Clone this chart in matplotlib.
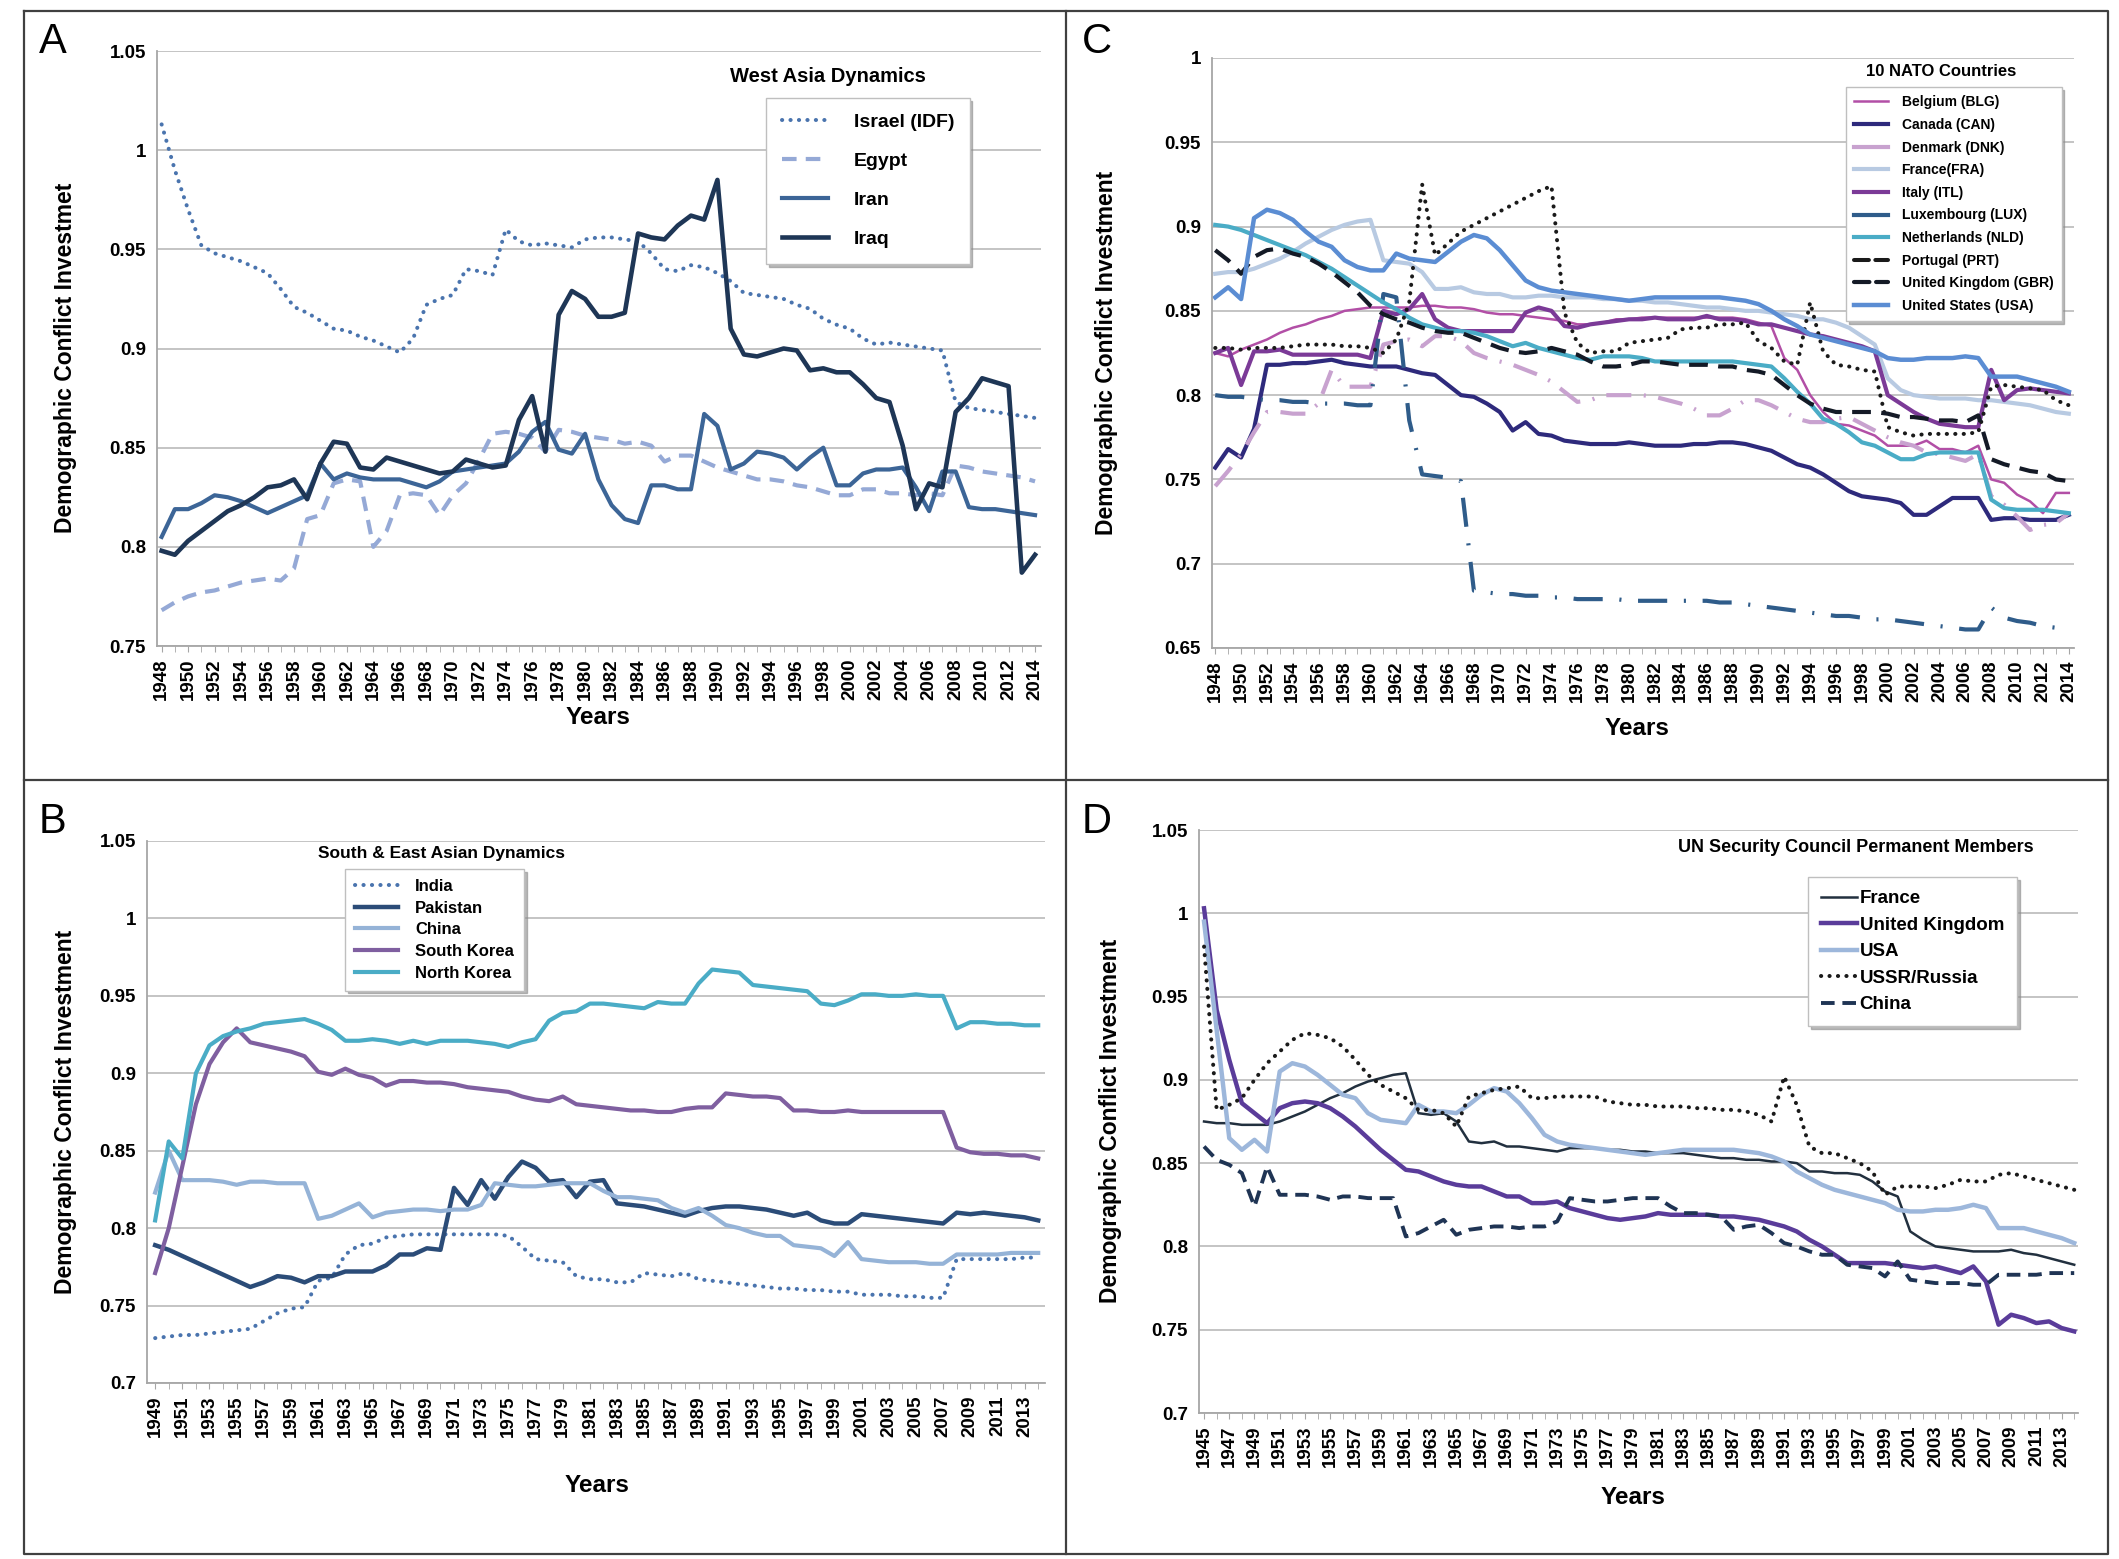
import numpy as np
import matplotlib
matplotlib.use("Agg")
import matplotlib.pyplot as plt
from matplotlib.lines import Line2D

# ---------------- DATA ----------------
# Panel A: West Asia Dynamics (1948-2014)
years_a = list(range(1948, 2015))
israel_a = [1.013, 0.990, 0.970, 0.952, 0.948, 0.946, 0.944, 0.941, 0.938, 0.930, 0.921, 0.918, 0.914, 0.910,
            0.909, 0.906, 0.904, 0.901, 0.898, 0.905, 0.922, 0.925, 0.927, 0.940, 0.939, 0.937, 0.960, 0.954,
            0.952, 0.953, 0.952, 0.951, 0.955, 0.956, 0.956, 0.955, 0.954, 0.948, 0.940, 0.939, 0.942, 0.941,
            0.938, 0.934, 0.928, 0.927, 0.926, 0.925, 0.922, 0.920, 0.915, 0.912, 0.910, 0.905, 0.902, 0.903,
            0.902, 0.901, 0.900, 0.899, 0.873, 0.870, 0.869, 0.868, 0.867, 0.866, 0.865]
egypt_a = [0.768, 0.772, 0.775, 0.777, 0.778, 0.780, 0.782, 0.783, 0.784, 0.783, 0.789, 0.814, 0.816, 0.832,
           0.834, 0.833, 0.800, 0.808, 0.826, 0.827, 0.826, 0.816, 0.826, 0.832, 0.844, 0.857, 0.858, 0.857,
           0.855, 0.848, 0.859, 0.858, 0.856, 0.855, 0.854, 0.852, 0.853, 0.851, 0.843, 0.846, 0.846, 0.843,
           0.840, 0.838, 0.836, 0.834, 0.834, 0.833, 0.831, 0.830, 0.828, 0.826, 0.826, 0.829, 0.829, 0.827,
           0.827, 0.826, 0.827, 0.826, 0.841, 0.840, 0.838, 0.837, 0.836, 0.835, 0.833]
iran_a = [0.805, 0.819, 0.819, 0.822, 0.826, 0.825, 0.823, 0.820, 0.817, 0.820, 0.823, 0.826, 0.842, 0.834,
          0.837, 0.835, 0.834, 0.834, 0.834, 0.832, 0.830, 0.833, 0.838, 0.839, 0.840, 0.841, 0.842, 0.848,
          0.858, 0.863, 0.849, 0.847, 0.857, 0.834, 0.821, 0.814, 0.812, 0.831, 0.831, 0.829, 0.829, 0.867,
          0.861, 0.839, 0.842, 0.848, 0.847, 0.845, 0.839, 0.845, 0.850, 0.831, 0.831, 0.837, 0.839, 0.839,
          0.840, 0.830, 0.818, 0.838, 0.838, 0.820, 0.819, 0.819, 0.818, 0.817, 0.816]
iraq_a = [0.798, 0.796, 0.803, 0.808, 0.813, 0.818, 0.821, 0.825, 0.830, 0.831, 0.834, 0.824, 0.842, 0.853,
          0.852, 0.840, 0.839, 0.845, 0.843, 0.841, 0.839, 0.837, 0.838, 0.844, 0.842, 0.840, 0.841, 0.864,
          0.876, 0.848, 0.917, 0.929, 0.925, 0.916, 0.916, 0.918, 0.958, 0.956, 0.955, 0.962, 0.967, 0.965,
          0.985, 0.910, 0.897, 0.896, 0.898, 0.900, 0.899, 0.889, 0.890, 0.888, 0.888, 0.882, 0.875, 0.873,
          0.851, 0.819, 0.832, 0.830, 0.868, 0.875, 0.885, 0.883, 0.881, 0.787, 0.796]

# Panel B: South & East Asian Dynamics (1949-2014)
years_b = list(range(1949, 2015))
india_b = [0.729, 0.730, 0.731, 0.731, 0.732, 0.733, 0.734, 0.735, 0.740, 0.745, 0.748, 0.749, 0.766, 0.768,
           0.783, 0.789, 0.790, 0.794, 0.795, 0.796, 0.796, 0.796, 0.796, 0.796, 0.796, 0.796, 0.795, 0.788,
           0.780, 0.779, 0.778, 0.769, 0.767, 0.767, 0.765, 0.765, 0.771, 0.770, 0.769, 0.771, 0.767, 0.766,
           0.765, 0.764, 0.763, 0.762, 0.761, 0.761, 0.760, 0.760, 0.759, 0.759, 0.757, 0.757, 0.757, 0.756,
           0.756, 0.755, 0.755, 0.780, 0.780, 0.780, 0.780, 0.780, 0.781, 0.781]
pakistan_b = [0.789, 0.786, 0.782, 0.778, 0.774, 0.770, 0.766, 0.762, 0.765, 0.769, 0.768, 0.765, 0.769, 0.769,
              0.772, 0.772, 0.772, 0.776, 0.783, 0.783, 0.787, 0.786, 0.826, 0.815, 0.831, 0.819, 0.833, 0.843,
              0.839, 0.830, 0.831, 0.820, 0.830, 0.831, 0.816, 0.815, 0.814, 0.812, 0.810, 0.808, 0.811, 0.813,
              0.814, 0.814, 0.813, 0.812, 0.810, 0.808, 0.810, 0.805, 0.803, 0.803, 0.809, 0.808, 0.807, 0.806,
              0.805, 0.804, 0.803, 0.810, 0.809, 0.810, 0.809, 0.808, 0.807, 0.805]
china_b = [0.823, 0.850, 0.831, 0.831, 0.831, 0.830, 0.828, 0.830, 0.830, 0.829, 0.829, 0.829, 0.806, 0.808,
           0.812, 0.816, 0.807, 0.810, 0.811, 0.812, 0.812, 0.811, 0.812, 0.812, 0.815, 0.829, 0.828, 0.827,
           0.827, 0.828, 0.829, 0.829, 0.829, 0.824, 0.820, 0.820, 0.819, 0.818, 0.813, 0.810, 0.813, 0.808,
           0.802, 0.800, 0.797, 0.795, 0.795, 0.789, 0.788, 0.787, 0.782, 0.791, 0.780, 0.779, 0.778, 0.778,
           0.778, 0.777, 0.777, 0.783, 0.783, 0.783, 0.783, 0.784, 0.784, 0.784]
skorea_b = [0.771, 0.800, 0.840, 0.880, 0.906, 0.920, 0.929, 0.920, 0.918, 0.916, 0.914, 0.911, 0.901, 0.899,
            0.903, 0.899, 0.897, 0.892, 0.895, 0.895, 0.894, 0.894, 0.893, 0.891, 0.890, 0.889, 0.888, 0.885,
            0.883, 0.882, 0.885, 0.880, 0.879, 0.878, 0.877, 0.876, 0.876, 0.875, 0.875, 0.877, 0.878, 0.878,
            0.887, 0.886, 0.885, 0.885, 0.884, 0.876, 0.876, 0.875, 0.875, 0.876, 0.875, 0.875, 0.875, 0.875,
            0.875, 0.875, 0.875, 0.852, 0.849, 0.848, 0.848, 0.847, 0.847, 0.845]
nkorea_b = [0.805, 0.856, 0.845, 0.900, 0.918, 0.924, 0.927, 0.929, 0.932, 0.933, 0.934, 0.935, 0.932, 0.928,
            0.921, 0.921, 0.922, 0.921, 0.919, 0.921, 0.919, 0.921, 0.921, 0.921, 0.920, 0.919, 0.917, 0.920,
            0.922, 0.934, 0.939, 0.940, 0.945, 0.945, 0.944, 0.943, 0.942, 0.946, 0.945, 0.945, 0.958, 0.967,
            0.966, 0.965, 0.957, 0.956, 0.955, 0.954, 0.953, 0.945, 0.944, 0.947, 0.951, 0.951, 0.950, 0.950,
            0.951, 0.950, 0.950, 0.929, 0.933, 0.933, 0.932, 0.932, 0.931, 0.931]

# Panel C: 10 NATO Countries (1948-2014)
years_c = list(range(1948, 2015))
belgium_c = [0.825, 0.823, 0.827, 0.830, 0.833, 0.837, 0.840, 0.842, 0.845, 0.847, 0.850, 0.851, 0.852, 0.852,
             0.852, 0.852, 0.853, 0.853, 0.852, 0.852, 0.851, 0.849, 0.848, 0.848, 0.847, 0.846, 0.845, 0.844,
             0.842, 0.842, 0.843, 0.845, 0.845, 0.846, 0.846, 0.846, 0.846, 0.846, 0.846, 0.846, 0.846, 0.845,
             0.843, 0.841, 0.822, 0.815, 0.800, 0.790, 0.783, 0.782, 0.779, 0.776, 0.770, 0.770, 0.770, 0.773,
             0.768, 0.768, 0.766, 0.770, 0.750, 0.748, 0.741, 0.737, 0.730, 0.742, 0.742]
canada_c = [0.757, 0.768, 0.763, 0.780, 0.818, 0.818, 0.819, 0.819, 0.820, 0.821, 0.819, 0.818, 0.817, 0.817,
            0.817, 0.815, 0.813, 0.812, 0.806, 0.800, 0.799, 0.795, 0.790, 0.779, 0.784, 0.777, 0.776, 0.773,
            0.772, 0.771, 0.771, 0.771, 0.772, 0.771, 0.770, 0.770, 0.770, 0.771, 0.771, 0.772, 0.772, 0.771,
            0.769, 0.767, 0.763, 0.759, 0.757, 0.753, 0.748, 0.743, 0.740, 0.739, 0.738, 0.736, 0.729, 0.729,
            0.734, 0.739, 0.739, 0.739, 0.726, 0.727, 0.727, 0.726, 0.726, 0.726, 0.729]
denmark_c = [0.746, 0.755, 0.765, 0.778, 0.790, 0.790, 0.789, 0.789, 0.795, 0.815, 0.805, 0.805, 0.805, 0.830,
             0.832, 0.833, 0.829, 0.835, 0.835, 0.832, 0.825, 0.822, 0.820, 0.818, 0.815, 0.812, 0.808, 0.802,
             0.796, 0.797, 0.800, 0.800, 0.800, 0.800, 0.799, 0.797, 0.795, 0.792, 0.788, 0.788, 0.792, 0.797,
             0.797, 0.794, 0.790, 0.786, 0.784, 0.784, 0.786, 0.787, 0.783, 0.779, 0.775, 0.772, 0.770, 0.766,
             0.765, 0.763, 0.761, 0.765, 0.740, 0.735, 0.728, 0.720, 0.723, 0.724, 0.730]
france_c = [0.872, 0.873, 0.873, 0.875, 0.878, 0.881, 0.885, 0.890, 0.894, 0.898, 0.901, 0.903, 0.904, 0.880,
            0.879, 0.878, 0.873, 0.863, 0.863, 0.864, 0.861, 0.860, 0.860, 0.858, 0.858, 0.859, 0.859, 0.858,
            0.858, 0.858, 0.857, 0.857, 0.856, 0.856, 0.855, 0.855, 0.854, 0.853, 0.852, 0.852, 0.851, 0.850,
            0.850, 0.849, 0.848, 0.847, 0.845, 0.845, 0.843, 0.840, 0.835, 0.830, 0.810, 0.803, 0.800, 0.799,
            0.798, 0.798, 0.798, 0.797, 0.797, 0.796, 0.795, 0.794, 0.792, 0.790, 0.789]
italy_c = [0.825, 0.828, 0.806, 0.826, 0.826, 0.827, 0.824, 0.824, 0.824, 0.824, 0.824, 0.824, 0.822, 0.850,
           0.848, 0.851, 0.860, 0.845, 0.840, 0.838, 0.838, 0.838, 0.838, 0.838, 0.849, 0.852, 0.850, 0.841,
           0.840, 0.842, 0.843, 0.844, 0.845, 0.845, 0.846, 0.845, 0.845, 0.845, 0.847, 0.845, 0.845, 0.844,
           0.842, 0.842, 0.840, 0.838, 0.836, 0.835, 0.833, 0.831, 0.829, 0.826, 0.800, 0.795, 0.790, 0.786,
           0.783, 0.782, 0.781, 0.781, 0.815, 0.797, 0.803, 0.804, 0.803, 0.802, 0.801]
luxembourg_c = [0.800, 0.799, 0.799, 0.798, 0.797, 0.797, 0.796, 0.796, 0.795, 0.795, 0.795, 0.794, 0.794, 0.860,
                0.858, 0.785, 0.753, 0.752, 0.751, 0.749, 0.684, 0.683, 0.682, 0.682, 0.681, 0.681, 0.680, 0.680,
                0.679, 0.679, 0.679, 0.679, 0.678, 0.678, 0.678, 0.678, 0.678, 0.678, 0.678, 0.677, 0.677, 0.676,
                0.675, 0.674, 0.673, 0.672, 0.671, 0.670, 0.669, 0.669, 0.668, 0.667, 0.667, 0.666, 0.665, 0.664,
                0.663, 0.662, 0.661, 0.661, 0.674, 0.668, 0.666, 0.665, 0.663, 0.662, 0.661]
netherlands_c = [0.901, 0.900, 0.898, 0.895, 0.892, 0.889, 0.886, 0.883, 0.879, 0.875, 0.870, 0.865, 0.860, 0.855,
                 0.851, 0.846, 0.842, 0.840, 0.838, 0.838, 0.837, 0.835, 0.832, 0.829, 0.831, 0.828, 0.826, 0.824,
                 0.822, 0.821, 0.823, 0.823, 0.823, 0.822, 0.820, 0.820, 0.820, 0.820, 0.820, 0.820, 0.820, 0.819,
                 0.818, 0.817, 0.810, 0.802, 0.795, 0.786, 0.783, 0.778, 0.772, 0.770, 0.766, 0.762, 0.762, 0.765,
                 0.766, 0.766, 0.766, 0.766, 0.738, 0.733, 0.732, 0.732, 0.732, 0.731, 0.730]
portugal_c = [0.828, 0.828, 0.827, 0.828, 0.828, 0.828, 0.829, 0.830, 0.830, 0.830, 0.829, 0.829, 0.828, 0.825,
              0.833, 0.855, 0.925, 0.883, 0.890, 0.897, 0.901, 0.905, 0.909, 0.913, 0.917, 0.921, 0.924, 0.849,
              0.831, 0.825, 0.826, 0.826, 0.831, 0.832, 0.833, 0.834, 0.839, 0.840, 0.840, 0.842, 0.842, 0.843,
              0.832, 0.828, 0.820, 0.818, 0.855, 0.826, 0.818, 0.817, 0.815, 0.814, 0.781, 0.778, 0.776, 0.777,
              0.777, 0.777, 0.777, 0.778, 0.805, 0.806, 0.805, 0.804, 0.803, 0.797, 0.794]
uk_c = [0.886, 0.880, 0.872, 0.882, 0.886, 0.887, 0.884, 0.882, 0.878, 0.873, 0.867, 0.861, 0.853, 0.848,
        0.845, 0.843, 0.840, 0.838, 0.837, 0.837, 0.834, 0.831, 0.828, 0.826, 0.825, 0.826, 0.828, 0.826,
        0.824, 0.820, 0.817, 0.817, 0.818, 0.820, 0.820, 0.819, 0.818, 0.818, 0.818, 0.817, 0.817, 0.815,
        0.814, 0.812, 0.806, 0.800, 0.795, 0.792, 0.790, 0.790, 0.790, 0.790, 0.789, 0.787, 0.787, 0.786,
        0.785, 0.785, 0.784, 0.788, 0.762, 0.759, 0.757, 0.755, 0.754, 0.750, 0.749]
usa_c = [0.858, 0.864, 0.857, 0.905, 0.910, 0.908, 0.904, 0.897, 0.891, 0.888, 0.880, 0.876, 0.874, 0.874,
         0.884, 0.881, 0.880, 0.879, 0.885, 0.891, 0.895, 0.893, 0.886, 0.877, 0.868, 0.864, 0.862, 0.861,
         0.860, 0.859, 0.858, 0.857, 0.856, 0.857, 0.858, 0.858, 0.858, 0.858, 0.858, 0.858, 0.857, 0.856,
         0.854, 0.850, 0.845, 0.841, 0.836, 0.834, 0.832, 0.830, 0.828, 0.826, 0.822, 0.821, 0.821, 0.822,
         0.822, 0.822, 0.823, 0.822, 0.811, 0.811, 0.811, 0.809, 0.807, 0.805, 0.802]

# Panel D: UN Security Council Permanent Members (1945-2014)
years_d = list(range(1945, 2015))
france_d = [0.875, 0.874, 0.874, 0.873, 0.873, 0.873, 0.875, 0.878, 0.881, 0.885, 0.889, 0.892, 0.896, 0.899,
            0.901, 0.903, 0.904, 0.880, 0.879, 0.880, 0.875, 0.863, 0.862, 0.863, 0.860, 0.860, 0.859, 0.858,
            0.857, 0.859, 0.859, 0.859, 0.858, 0.858, 0.857, 0.857, 0.856, 0.856, 0.856, 0.855, 0.854, 0.853,
            0.853, 0.852, 0.852, 0.851, 0.851, 0.850, 0.845, 0.845, 0.844, 0.844, 0.843, 0.839, 0.833, 0.830,
            0.809, 0.804, 0.800, 0.799, 0.798, 0.797, 0.797, 0.797, 0.798, 0.796, 0.795, 0.793, 0.791, 0.789]
uk_d = [1.003, 0.942, 0.912, 0.886, 0.880, 0.874, 0.883, 0.886, 0.887, 0.886, 0.883, 0.878, 0.872, 0.865,
        0.858, 0.852, 0.846, 0.845, 0.842, 0.839, 0.837, 0.836, 0.836, 0.833, 0.830, 0.830, 0.826, 0.826,
        0.827, 0.823, 0.821, 0.819, 0.817, 0.816, 0.817, 0.818, 0.820, 0.819, 0.819, 0.819, 0.819, 0.818,
        0.818, 0.817, 0.816, 0.814, 0.812, 0.809, 0.804, 0.800, 0.795, 0.790, 0.790, 0.790, 0.790, 0.789,
        0.788, 0.787, 0.788, 0.786, 0.784, 0.788, 0.779, 0.753, 0.759, 0.757, 0.754, 0.755, 0.751, 0.749]
usa_d = [0.995, 0.930, 0.865, 0.858, 0.864, 0.857, 0.905, 0.910, 0.908, 0.903, 0.897, 0.891, 0.889, 0.880,
         0.876, 0.875, 0.874, 0.885, 0.881, 0.881, 0.880, 0.885, 0.891, 0.895, 0.893, 0.886, 0.877, 0.867,
         0.863, 0.861, 0.860, 0.859, 0.858, 0.857, 0.856, 0.855, 0.856, 0.857, 0.858, 0.858, 0.858, 0.858,
         0.858, 0.857, 0.856, 0.854, 0.851, 0.845, 0.841, 0.837, 0.834, 0.832, 0.830, 0.828, 0.826, 0.822,
         0.821, 0.821, 0.822, 0.822, 0.823, 0.825, 0.823, 0.811, 0.811, 0.811, 0.809, 0.807, 0.805, 0.802]
ussr_d = [0.980, 0.882, 0.885, 0.889, 0.900, 0.910, 0.917, 0.924, 0.928, 0.927, 0.925, 0.920, 0.912, 0.903,
          0.897, 0.893, 0.889, 0.882, 0.882, 0.880, 0.872, 0.890, 0.892, 0.894, 0.895, 0.896, 0.889, 0.889,
          0.890, 0.890, 0.890, 0.890, 0.887, 0.886, 0.885, 0.885, 0.884, 0.884, 0.884, 0.883, 0.883, 0.882,
          0.882, 0.881, 0.879, 0.875, 0.902, 0.885, 0.860, 0.856, 0.856, 0.853, 0.850, 0.845, 0.831, 0.836,
          0.836, 0.836, 0.835, 0.837, 0.840, 0.839, 0.839, 0.843, 0.844, 0.842, 0.840, 0.838, 0.836, 0.834]
china_d = [0.860, 0.852, 0.849, 0.844, 0.824, 0.848, 0.831, 0.831, 0.831, 0.830, 0.828, 0.830, 0.830, 0.829,
           0.829, 0.829, 0.806, 0.808, 0.812, 0.816, 0.807, 0.810, 0.811, 0.812, 0.812, 0.811, 0.812, 0.812,
           0.815, 0.829, 0.828, 0.827, 0.827, 0.828, 0.829, 0.829, 0.829, 0.824, 0.820, 0.820, 0.819, 0.818,
           0.810, 0.812, 0.813, 0.808, 0.802, 0.800, 0.797, 0.795, 0.795, 0.789, 0.788, 0.787, 0.782, 0.791,
           0.780, 0.779, 0.778, 0.778, 0.778, 0.777, 0.777, 0.783, 0.783, 0.783, 0.783, 0.784, 0.784, 0.784]

# ---------------- FIGURE ----------------
W, H = 2119, 1559
fig = plt.figure(figsize=(W / 100, H / 100), dpi=100)
fig.patch.set_facecolor("white")

ARIAL = ["Liberation Sans", "DejaVu Sans"]
DOTS = (0, (0.05, 2.05))
DOT_LW = 2.9


def fx(px):
    return px / W


def fy(py):
    return 1 - py / H


def make_axes(l, r, t, b, xlim, ylim, yticks, xlabels_years):
    ax = fig.add_axes([fx(l), fy(b), fx(r) - fx(l), fy(t) - fy(b)])
    ax.set_xlim(*xlim)
    ax.set_ylim(*ylim)
    ax.set_yticks(yticks)
    ax.set_yticklabels(["%g" % v for v in yticks], fontfamily=ARIAL, fontweight="bold", fontsize=13.5)
    ax.set_xticks(xlabels_years)
    ax.set_xticklabels([str(y) for y in xlabels_years], rotation=90, fontfamily=ARIAL,
                       fontweight="bold", fontsize=13.5)
    ax.set_xticks(np.arange(int(np.ceil(xlim[0])), int(xlim[1]) + 1), minor=True)
    ax.tick_params(axis="y", length=0, pad=8)
    ax.tick_params(axis="x", which="both", length=4, color="#A6A6A6", direction="out", pad=5)
    ax.grid(axis="y", color="#BFBFBF", lw=1.3)
    ax.set_axisbelow(True)
    for s in ["top", "right"]:
        ax.spines[s].set_visible(False)
    for s in ["left", "bottom"]:
        ax.spines[s].set_color("#A6A6A6")
        ax.spines[s].set_linewidth(1.3)
    return ax


def add_legend(handles, labels, x0, y0, fs, title, tx, ty, tfs, **kw):
    leg = fig.legend(handles, labels, loc="upper left", bbox_to_anchor=(fx(x0), fy(y0)),
                     bbox_transform=fig.transFigure, frameon=True, fancybox=False,
                     shadow={"color": "0.55", "alpha": 0.6}, borderaxespad=0,
                     prop={"family": ARIAL, "weight": "bold", "size": fs}, **kw)
    leg.get_frame().set_edgecolor("#BFBFBF")
    leg.get_frame().set_linewidth(1.0)
    fig.text(fx(tx), fy(ty), title, ha="center", va="center", fontfamily=ARIAL,
             fontweight="bold", fontsize=tfs)
    return leg


# ---------- Panel A ----------
axA = make_axes(157, 1041, 51, 646, (1947.65, 2014.45), (0.75, 1.05),
                [0.75, 0.8, 0.85, 0.9, 0.95, 1.0, 1.05], list(range(1948, 2015, 2)))
lA = [
    axA.plot(years_a, israel_a, color="#4A74AE", lw=DOT_LW, ls=DOTS, dash_capstyle="round")[0],
    axA.plot(years_a, egypt_a, color="#95A9D6", lw=3, ls=(0, (3.5, 2.2)))[0],
    axA.plot(years_a, iran_a, color="#3C6597", lw=3)[0],
    axA.plot(years_a, iraq_a, color="#1E3656", lw=3.3)[0],
]
add_legend(lA, ["Israel (IDF)", "Egypt", "Iran", "Iraq"], 766, 98, 14,
           "West Asia Dynamics", 828, 76, 14.5, labelspacing=1.1, handlelength=2.4,
           handletextpad=1.3, borderpad=0.8)

# ---------- Panel B ----------
axB = make_axes(147, 1045, 841, 1383, (1948.4, 2014.5), (0.7, 1.05),
                [0.7, 0.75, 0.8, 0.85, 0.9, 0.95, 1.0, 1.05], list(range(1949, 2015, 2)))
lB = [
    axB.plot(years_b, india_b, color="#4A74AE", lw=DOT_LW, ls=DOTS, dash_capstyle="round")[0],
    axB.plot(years_b, pakistan_b, color="#2B4C78", lw=3.2)[0],
    axB.plot(years_b, china_b, color="#95B3D7", lw=3)[0],
    axB.plot(years_b, skorea_b, color="#7F5FA0", lw=3)[0],
    axB.plot(years_b, nkorea_b, color="#4AACC6", lw=3)[0],
]
add_legend(lB, ["India", "Pakistan", "China", "South Korea", "North Korea"], 345, 869, 12,
           "South & East Asian Dynamics", 441, 853, 12.5, labelspacing=0.4, handlelength=2.6,
           handletextpad=1.0, borderpad=0.6)

# ---------- Panel C ----------
axC = make_axes(1212, 2074, 58, 648, (1947.75, 2014.4), (0.65, 1.0),
                [0.65, 0.7, 0.75, 0.8, 0.85, 0.9, 0.95, 1.0], list(range(1948, 2015, 2)))
lC = [
    axC.plot(years_c, belgium_c, color="#B24FA6", lw=1.8)[0],
    axC.plot(years_c, canada_c, color="#2E2A7C", lw=3)[0],
    axC.plot(years_c, denmark_c, color="#C8A2CF", lw=3, ls=(0, (6, 3, 0.5, 3)))[0],
    axC.plot(years_c, france_c, color="#B8CAE2", lw=3)[0],
    axC.plot(years_c, italy_c, color="#7B3A97", lw=3)[0],
    axC.plot(years_c, luxembourg_c, color="#2F5C8A", lw=3, ls=(0, (7, 4, 0.5, 4)))[0],
    axC.plot(years_c, netherlands_c, color="#4AACC6", lw=3)[0],
    axC.plot(years_c, portugal_c, color="#1A1A1A", lw=DOT_LW, ls=DOTS, dash_capstyle="round")[0],
    axC.plot(years_c, uk_c, color="#141A26", lw=3, ls=(0, (4.5, 2.5)))[0],
    axC.plot(years_c, usa_c, color="#5B8DD3", lw=3.2)[0],
]
hC = [Line2D([], [], color=l.get_color(), lw=l.get_linewidth(), ls=l.get_linestyle(),
             dash_capstyle="round") for l in lC]
hC[2] = Line2D([], [], color="#C8A2CF", lw=3)
hC[5] = Line2D([], [], color="#2F5C8A", lw=3)
add_legend(hC, ["Belgium (BLG)", "Canada (CAN)", "Denmark (DNK)", "France(FRA)", "Italy (ITL)",
                "Luxembourg (LUX)", "Netherlands (NLD)", "Portugal (PRT)", "United Kingdom (GBR)",
                "United States (USA)"], 1846, 87, 10,
           "10 NATO Countries", 1941, 72, 12, labelspacing=0.62, handlelength=2.4,
           handletextpad=1.0, borderpad=0.6)

# ---------- Panel D ----------
axD = make_axes(1199, 2078, 830, 1413, (1944.6, 2014.3), (0.7, 1.05),
                [0.7, 0.75, 0.8, 0.85, 0.9, 0.95, 1.0, 1.05], list(range(1945, 2015, 2)))
lD = [
    axD.plot(years_d, france_d, color="#22303F", lw=1.8)[0],
    axD.plot(years_d, uk_d, color="#5A3C9A", lw=3.2)[0],
    axD.plot(years_d, usa_d, color="#9DB7DB", lw=3.2)[0],
    axD.plot(years_d, ussr_d, color="#1A1A1A", lw=DOT_LW, ls=DOTS, dash_capstyle="round")[0],
    axD.plot(years_d, china_d, color="#1F3454", lw=2.8, ls=(0, (3.5, 2)))[0],
]
add_legend(lD, ["France", "United Kingdom", "USA", "USSR/Russia", "China"], 1808, 877, 13.5,
           "UN Security Council Permanent Members", 1856, 848, 13, labelspacing=0.5,
           handlelength=1.9, handletextpad=0.15, borderpad=0.7)

# ---------- axis titles ----------
for (x, y, txt) in [(66, 358, "Demographic Conflict Investmet"),
                    (66, 1112, "Demographic Conflict Investment"),
                    (1106, 353, "Demographic Conflict Investment"),
                    (1111, 1121, "Demographic Conflict Investment")]:
    fig.text(fx(x), fy(y), txt, rotation=90, ha="center", va="center", fontfamily=ARIAL,
             fontweight="bold", fontsize=16.5)
for (x, y) in [(598, 718), (597, 1485), (1637, 728), (1633, 1498)]:
    fig.text(fx(x), fy(y), "Years", ha="center", va="center", fontfamily=ARIAL,
             fontweight="bold", fontsize=17.5)

# ---------- panel letters ----------
for (x, y, t) in [(53, 42, "A"), (1097, 42, "C"), (53, 822, "B"), (1097, 822, "D")]:
    fig.text(fx(x), fy(y), t, ha="center", va="center", fontfamily=ARIAL, fontsize=30)

# ---------- frame ----------
frame_kw = dict(transform=fig.transFigure, color="#404040", lw=1.6)
L, R, T, B = 24, 2108, 11, 1554
fig.add_artist(Line2D([fx(L), fx(R), fx(R), fx(L), fx(L)], [fy(T), fy(T), fy(B), fy(B), fy(T)], **frame_kw))
fig.add_artist(Line2D([fx(1066), fx(1066)], [fy(T), fy(B)], **frame_kw))
fig.add_artist(Line2D([fx(L), fx(R)], [fy(780), fy(780)], **frame_kw))

fig.savefig("out.png", dpi=100)
